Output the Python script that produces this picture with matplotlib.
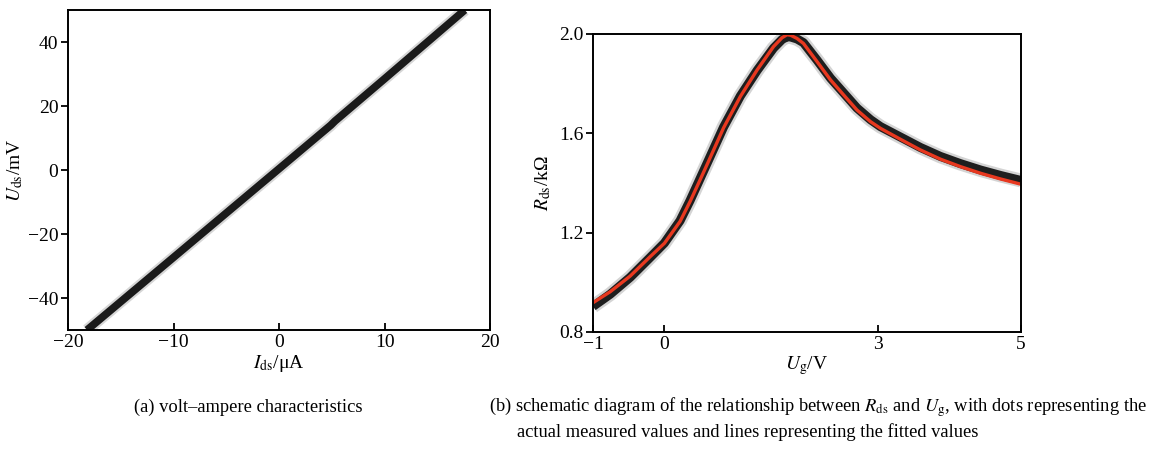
import matplotlib
matplotlib.use("Agg")
import matplotlib.pyplot as plt

plt.rcParams['font.family'] = ['Liberation Serif', 'DejaVu Serif']
plt.rcParams['mathtext.fontset'] = 'stix'

# (a) volt-ampere characteristics
ids_uA = [-18.2, -10.0, 0.0, 4.9, 5.3, 10.0, 17.6]
uds_mV = [-50.0, -27.3, 0.4, 14.0, 15.3, 28.5, 50.0]

# (b) R_ds vs U_g : fitted values
ug_fit = [-1.0, -0.76, -0.48, -0.2, 0.0, 0.22, 0.36, 0.50, 0.60, 0.83, 1.065,
          1.30, 1.53, 1.65, 1.72, 1.77, 1.86, 1.95, 2.14, 2.33, 2.515, 2.70,
          2.89, 3.03, 3.31, 3.59, 3.87, 4.15, 4.435, 4.716, 5.0]
rds_fit = [0.918, 0.962, 1.025, 1.103, 1.157, 1.245, 1.325, 1.412, 1.475, 1.622, 1.748,
           1.855, 1.949, 1.985, 1.997, 1.995, 1.982, 1.962, 1.889, 1.815, 1.754, 1.694,
           1.647, 1.620, 1.576, 1.533, 1.496, 1.466, 1.439, 1.416, 1.395]
# measured values
ug_meas = [-1.0, -0.76, -0.48, -0.2, 0.0, 0.22, 0.36, 0.50, 0.60, 0.83, 1.065,
           1.30, 1.53, 1.65, 1.72, 1.77, 1.86, 1.95, 2.14, 2.33, 2.515, 2.70,
           2.89, 3.03, 3.31, 3.59, 3.87, 4.15, 4.435, 4.716, 5.0]
rds_meas = [0.903, 0.952, 1.020, 1.100, 1.158, 1.248, 1.329, 1.417, 1.480, 1.625, 1.750,
            1.853, 1.943, 1.978, 1.989, 1.988, 1.980, 1.965, 1.895, 1.822, 1.762, 1.702,
            1.655, 1.627, 1.585, 1.543, 1.507, 1.478, 1.452, 1.430, 1.410]

fig = plt.figure(figsize=(11.61, 4.49), dpi=100)
ax1 = fig.add_axes([0.0586, 0.265, 0.3635, 0.7127])
ax2 = fig.add_axes([0.5108, 0.2606, 0.3686, 0.6637])

FS = 14
for ax in (ax1, ax2):
    for s in ax.spines.values():
        s.set_linewidth(1.4)
    ax.tick_params(axis='x', direction='in', length=5, width=1.3, labelsize=FS, pad=3)
    ax.tick_params(axis='y', direction='out', length=5, width=1.3, labelsize=FS, pad=2)

# --- panel a
ax1.plot(ids_uA, uds_mV, color='#bbbbbb', lw=8.5, alpha=0.6, solid_capstyle='butt')
ax1.plot(ids_uA, uds_mV, color='#1a1a1a', lw=5.5, solid_capstyle='butt')
ax1.set_xlim(-20, 20)
ax1.set_ylim(-50, 50)
ax1.set_xticks([-20, -10, 0, 10, 20])
ax1.set_yticks([-40, -20, 0, 20, 40])
ax1.set_xticklabels(['\u221220', '\u221210', '0', '10', '20'])
ax1.set_yticklabels(['\u221240', '\u221220', '0', '20', '40'])
ax1.set_xlabel(r'$I_{\rm ds}$/μA', fontsize=FS, labelpad=1)
ax1.set_ylabel(r'$U_{\rm ds}$/mV', fontsize=FS, labelpad=2)

# --- panel b
ax2.plot(ug_meas, rds_meas, color='#aaaaaa', lw=10, alpha=0.5, solid_capstyle='butt',
         solid_joinstyle='round')
ax2.plot(ug_meas, rds_meas, color='#1e1e1e', lw=6.5, solid_capstyle='butt',
         solid_joinstyle='round')
ax2.plot(ug_fit, rds_fit, color='#e8381f', lw=2.4, solid_joinstyle='round')
ax2.set_xlim(-1, 5)
ax2.set_ylim(0.8, 2.0)
ax2.set_xticks([-1, 0, 3, 5])
ax2.set_xticklabels(['\u22121', '0', '3', '5'])
ax2.set_yticks([0.8, 1.2, 1.6, 2.0])
ax2.set_yticklabels(['0.8', '1.2', '1.6', '2.0'])
ax2.set_xlabel(r'$U_{\rm g}$/V', fontsize=FS, labelpad=1)
ax2.set_ylabel(r'$R_{\rm ds}$/kΩ', fontsize=FS, labelpad=4)

CFS = 13.3
fig.text(248 / 1161, 1 - 407 / 449, '(a) volt\u2013ampere characteristics',
         ha='center', va='center', fontsize=CFS)
fig.text(489 / 1161, 1 - 407 / 449,
         r'(b) schematic diagram of the relationship between $R_{\rm ds}$ and $U_{\rm g}$, with dots representing the',
         ha='left', va='center', fontsize=CFS)
fig.text(517 / 1161, 1 - 432 / 449,
         'actual measured values and lines representing the fitted values',
         ha='left', va='center', fontsize=CFS)

fig.savefig('out.png', dpi=100)
